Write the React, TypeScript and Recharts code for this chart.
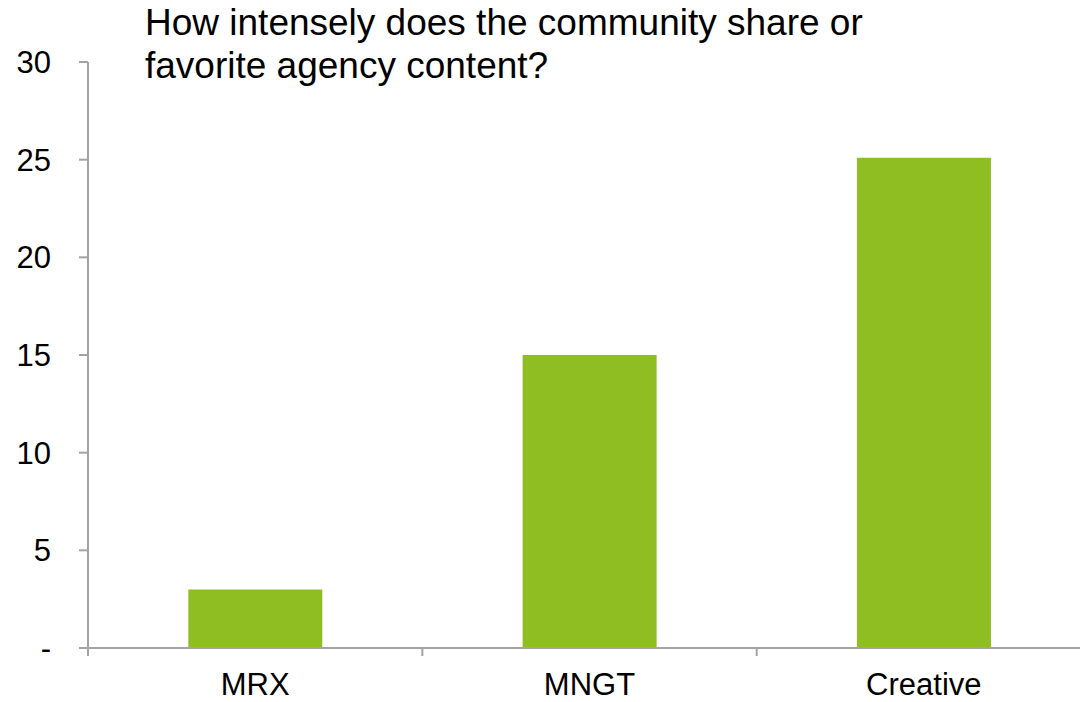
import { FC } from 'react';
import { Bar, BarChart, XAxis, YAxis } from 'recharts';

const CATEGORIES = ['MRX', 'MNGT', 'Creative'];
const SCORES = [3, 15, 25.1];
const Y_TICKS = [0, 5, 10, 15, 20, 25, 30];
const TITLE_LINES = ['How intensely does the community share or', 'favorite agency content?'];

const GREEN = '#8fbe23';
const AXIS_GREY = '#a3a3a3';
const FONT = '"Liberation Sans", Arial, sans-serif';

const data = CATEGORIES.map((name, i) => ({ name, value: SCORES[i] }));

// category label plus a tick mark on the left edge of each band
const CategoryTick = (props: any) => {
  const { x, y, payload, index, width, visibleTicksCount } = props;
  const band = width / (visibleTicksCount || 3);
  const left = x - band / 2;
  return (
    <g>
      <line x1={left} y1={y} x2={left} y2={y + 8} stroke={AXIS_GREY} strokeWidth={2} />
      {index === visibleTicksCount - 1 && (
        <line x1={left + band} y1={y} x2={left + band} y2={y + 8} stroke={AXIS_GREY} strokeWidth={2} />
      )}
      <text x={x} y={y + 25} dy="0.71em" textAnchor="middle" fill="#000" fontSize={31} fontFamily={FONT}>
        {payload.value}
      </text>
    </g>
  );
};

const App: FC = () => {
  return (
    <div style={{ position: 'relative', width: 1080, height: 694, fontFamily: FONT }}>
      {/* the plot runs a little past the window's right edge, so clip it */}
      <div style={{ width: 1080, height: 694, overflow: 'hidden' }}>
        <BarChart
          width={1083}
          height={694}
          data={data}
          margin={{ top: 54, right: 0, bottom: 0, left: 0 }}
          barCategoryGap="30%"
        >
          <XAxis
            dataKey="name"
            height={54}
            interval={0}
            tickSize={0}
            tickMargin={0}
            tickLine={false}
            axisLine={{ stroke: AXIS_GREY, strokeWidth: 2 }}
            tick={<CategoryTick />}
          />
          <YAxis
            domain={[0, 30]}
            ticks={Y_TICKS}
            interval={0}
            width={80}
            tickSize={9}
            tickMargin={28}
            tickFormatter={(v: number) => (v === 0 ? '-' : String(v))}
            axisLine={{ stroke: AXIS_GREY, strokeWidth: 2 }}
            tickLine={{ stroke: AXIS_GREY, strokeWidth: 2 }}
            tick={{ fill: '#000', fontSize: 31, fontFamily: FONT }}
          />
          <Bar dataKey="value" fill={GREEN} isAnimationActive={false} />
        </BarChart>
      </div>
      <div
        style={{
          position: 'absolute',
          left: 137,
          top: -7,
          fontSize: 37,
          lineHeight: '43px',
          color: '#000',
          whiteSpace: 'nowrap',
        }}
      >
        {TITLE_LINES.map((line) => (
          <div key={line}>{line}</div>
        ))}
      </div>
    </div>
  );
};

export default App;
